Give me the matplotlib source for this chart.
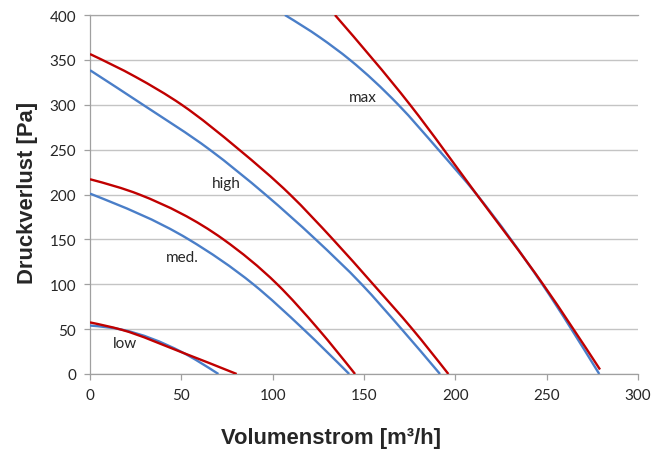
import matplotlib
matplotlib.use("Agg")
import matplotlib.pyplot as plt
from matplotlib.path import Path
from matplotlib.patches import PathPatch

# (volume flow m3/h, pressure loss Pa)
low_blue_x = [0, 17.3, 50.2, 70.3]
low_blue_y = [54, 49.5, 24.5, 0]
low_red_x = [0, 17.3, 50.2, 80.3]
low_red_y = [57.5, 49.3, 24.2, 0]

med_blue_x = [0, 54, 89.4, 116.8, 141.9]
med_blue_y = [201, 150, 100, 50, 0]
med_red_x = [0, 27, 73, 102.5, 125, 145.1]
med_red_y = [217, 200, 150, 100, 50, 0]

high_blue_x = [0, 29, 65.5, 96, 123.5, 148.7, 170.6, 191.6]
high_blue_y = [338.5, 300, 250, 200, 150, 100, 50, 0]
high_red_x = [0, 25, 50.2, 81.2, 109.5, 133, 155, 176.5, 196.2]
high_red_y = [356.5, 331, 300, 250.7, 200, 150, 100, 50, 0]

max_blue_x = [106.7, 125.9, 142.3, 168.8, 190.7, 211.7, 247.6, 278.8]
max_blue_y = [400, 375, 350, 300, 250, 200, 100, 0]
max_red_x = [134.1, 175.2, 211.7, 248, 279.2]
max_red_y = [400, 300, 200, 100, 5]

curve_labels = ["low", "med.", "high", "max"]
label_x = [19.2, 50.7, 74.8, 149.6]
label_y = [34.5, 130.7, 212.5, 308.3]

x_ticks = [0, 50, 100, 150, 200, 250, 300]
y_ticks = [0, 50, 100, 150, 200, 250, 300, 350, 400]

blue = '#4A7EC8'
red = '#C00000'
tick_font = 'Lato'


def smooth_path(xs, ys):
    # smoothed line through the read points (hermite in x, drawn as bezier)
    n = len(xs)
    h = [xs[i+1] - xs[i] for i in range(n - 1)]
    d = [(ys[i+1] - ys[i]) / h[i] for i in range(n - 1)]
    m = [0.] * n
    for i in range(1, n - 1):
        m[i] = (d[i-1] * h[i] + d[i] * h[i-1]) / (h[i-1] + h[i])
    m[0] = (3 * d[0] - m[1]) / 2 if n > 2 else d[0]
    m[-1] = (3 * d[-1] - m[-2]) / 2 if n > 2 else d[-1]
    verts = [(xs[0], ys[0])]
    codes = [Path.MOVETO]
    for i in range(n - 1):
        k = h[i] / 3.
        verts += [(xs[i] + k, ys[i] + m[i] * k),
                  (xs[i+1] - k, ys[i+1] - m[i+1] * k),
                  (xs[i+1], ys[i+1])]
        codes += [Path.CURVE4] * 3
    return Path(verts, codes)


fig = plt.figure(figsize=(6.59, 4.64), dpi=100)
ax = fig.add_axes([90/659, 1 - 375/464, 548/659, 359/464])

for bx, by, rx, ry in [(low_blue_x, low_blue_y, low_red_x, low_red_y),
                       (med_blue_x, med_blue_y, med_red_x, med_red_y),
                       (high_blue_x, high_blue_y, high_red_x, high_red_y),
                       (max_blue_x, max_blue_y, max_red_x, max_red_y)]:
    ax.add_patch(PathPatch(smooth_path(bx, by), fill=False, edgecolor=blue,
                           lw=1.7, capstyle='butt', zorder=3))
    ax.add_patch(PathPatch(smooth_path(rx, ry), fill=False, edgecolor=red,
                           lw=1.7, capstyle='butt', zorder=4))

for t, lx, ly in zip(curve_labels, label_x, label_y):
    ax.text(lx, ly, t, ha='center', va='center', fontsize=11,
            family=tick_font, color='#262626', zorder=5)

ax.set_xlim(0, 300)
ax.set_ylim(0, 400)
ax.set_xticks(x_ticks)
ax.set_yticks(y_ticks)
ax.grid(axis='y', color='#C4C4C4', lw=1.0, zorder=0)
ax.set_axisbelow(True)

ax.spines['right'].set_visible(False)
ax.spines['top'].set_color('#A6A6A6')
ax.spines['top'].set_linewidth(0.9)
for s in ['left', 'bottom']:
    ax.spines[s].set_color('#A0A0A0')
    ax.spines[s].set_linewidth(0.9)

ax.tick_params(axis='both', direction='out', length=4, width=0.9,
               color='#A0A0A0', labelcolor='#262626', labelsize=11, pad=6)
for lab in ax.get_xticklabels() + ax.get_yticklabels():
    lab.set_family(tick_font)

fig.text(0.503, 1 - 439/464, 'Volumenstrom [m³/h]', ha='center', va='center',
         fontsize=15.8, fontweight='bold', family='Liberation Sans', color='#262626')
fig.text(28/659, 1 - 193/464, 'Druckverlust [Pa]', ha='center', va='center',
         rotation=90, fontsize=15.8, fontweight='bold', family='Liberation Sans',
         color='#262626')

fig.savefig('out.png', dpi=100)
